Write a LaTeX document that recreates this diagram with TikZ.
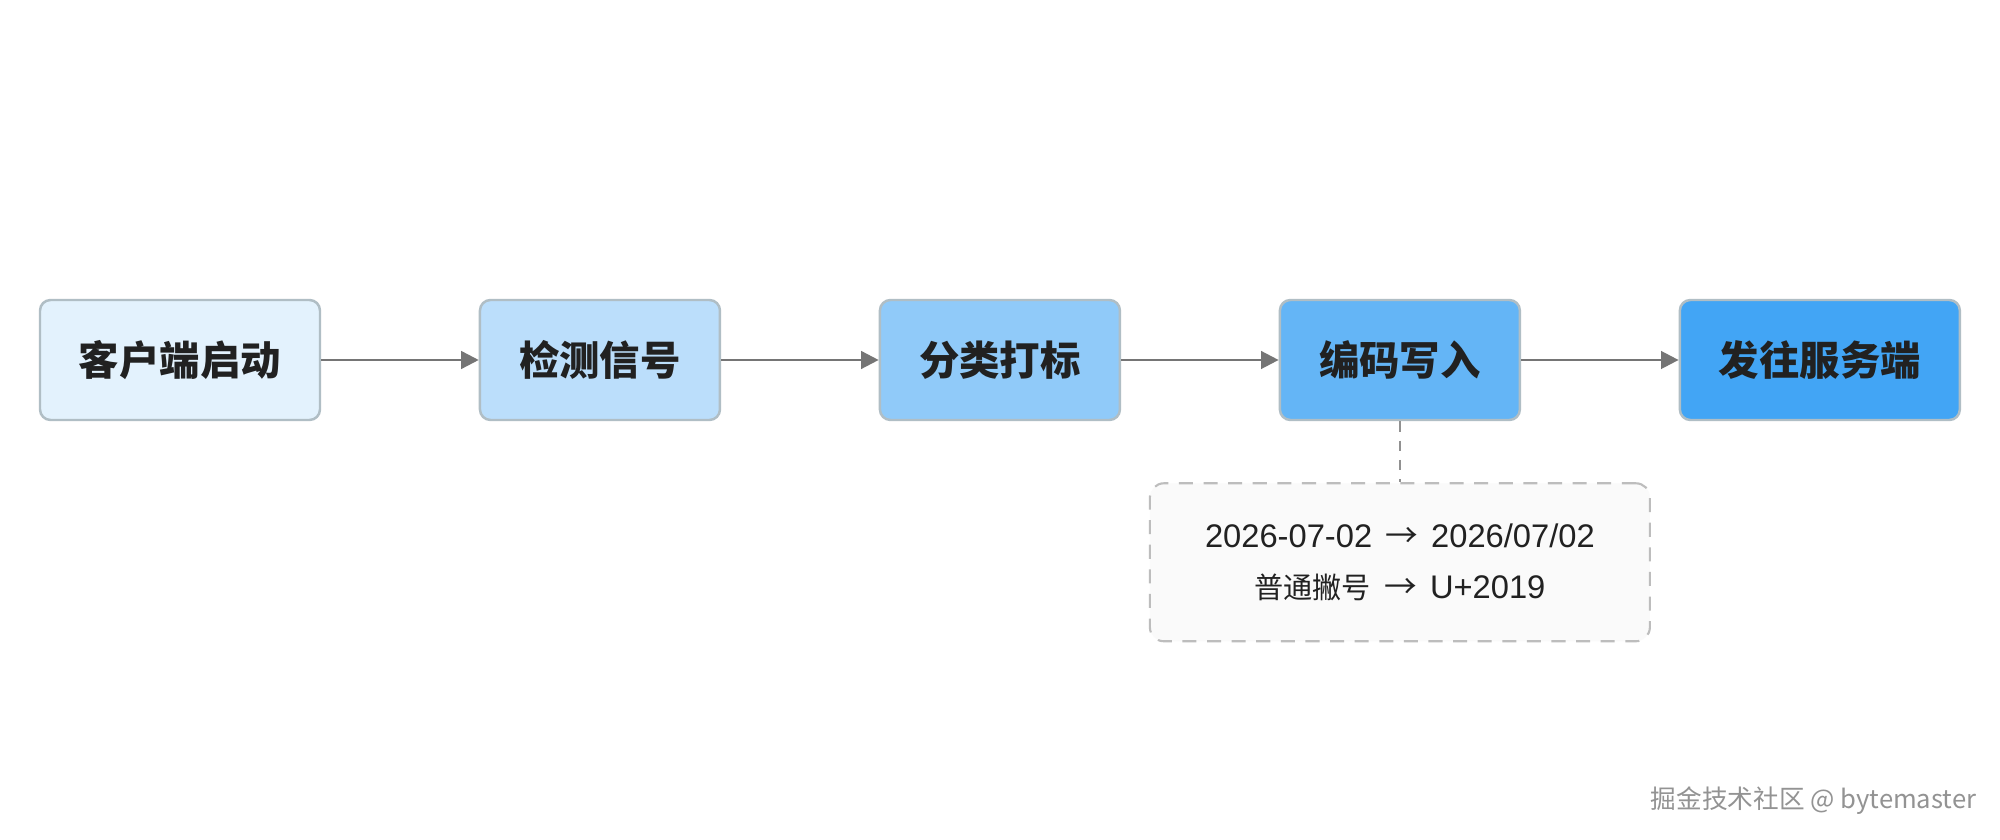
\documentclass[tikz,border=0pt]{standalone}
\usepackage{fontspec}
\setmainfont{Noto Sans CJK SC}
\newfontfamily\latinsans{Liberation Sans}
\usetikzlibrary{arrows.meta,positioning}
\definecolor{stepA}{HTML}{E3F2FD}
\definecolor{stepB}{HTML}{BBDEFB}
\definecolor{stepC}{HTML}{90CAF9}
\definecolor{stepD}{HTML}{64B5F6}
\definecolor{stepE}{HTML}{42A5F5}
\definecolor{edgegray}{HTML}{B0BEC5}
\definecolor{arrowgray}{HTML}{757575}
\definecolor{notegray}{HTML}{BDBDBD}
\definecolor{notefill}{HTML}{FAFAFA}
\definecolor{textdark}{HTML}{212121}
\newcommand{\lat}[1]{{\latinsans\fontsize{9.3}{14.5}\selectfont #1}}
\newcommand{\toarrow}{\hspace{0.45em}{\fontsize{9.3}{14.5}\selectfont →}\hspace{0.45em}}
\tikzset{
  stagebox/.style={draw=edgegray,line width=0.7pt,rounded corners=3pt,minimum height=1.2cm,
    inner sep=0pt,align=center,text=textdark,font=\fontsize{11.5}{13}\selectfont\bfseries},
  flow/.style={-{Triangle[length=5pt,width=5pt]},line width=0.7pt,draw=arrowgray},
}
\begin{document}
\begin{tikzpicture}[node distance=0.61cm and 1.575cm]
\fill[white] (0,0) rectangle (20,8.4);
\useasboundingbox (0,0) rectangle (20,8.4);
\node[stagebox,fill=stepA,minimum width=2.8cm] (start) at (1.8,4.8) {客户端启动};
\node[stagebox,fill=stepB,minimum width=2.4cm,right=of start] (detect) {检测信号};
\node[stagebox,fill=stepC,minimum width=2.4cm,right=of detect] (classify) {分类打标};
\node[stagebox,fill=stepD,minimum width=2.4cm,right=of classify] (encode) {编码写入};
\node[stagebox,fill=stepE,minimum width=2.8cm,right=of encode] (send) {发往服务端};
\foreach \a/\b in {start/detect,detect/classify,classify/encode,encode/send} \draw[flow] (\a)--(\b);
% conversion note under the encoding step
\node[draw=notegray,fill=notefill,dashed,dash pattern=on 4pt off 3pt,line width=0.6pt,rounded corners=4pt,
  minimum width=5cm,minimum height=1.58cm,align=center,text=textdark,
  font=\fontsize{8.3}{14.5}\selectfont,below=of encode] (note)
  {\lat{2026-07-02}\toarrow\lat{2026/07/02}\\普通撇号\toarrow\lat{U+2019}};
\draw[draw=arrowgray!80,line width=0.6pt,dash pattern=on 3pt off 2.5pt] (encode.south)--(note.north);
\node[anchor=east,text=gray!85,font=\fontsize{7.3}{8}\selectfont,inner sep=0pt] (mark) at (19.77,0.39) {掘金技术社区 @ bytemaster};
\end{tikzpicture}
\end{document}
